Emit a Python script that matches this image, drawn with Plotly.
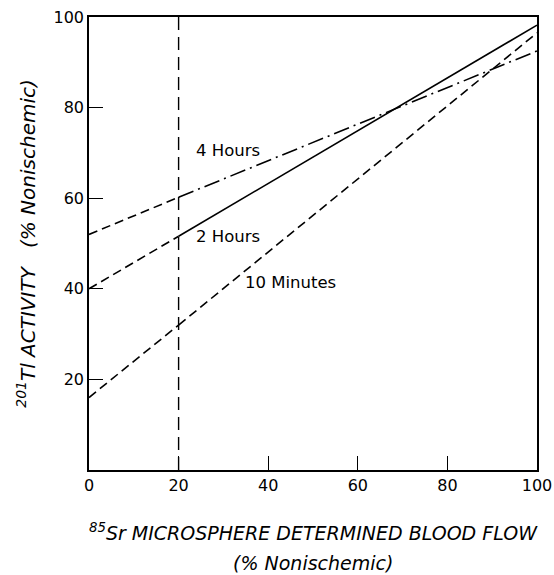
import plotly.graph_objects as go

# values
flow = [0, 20, 100]              # % nonischemic blood flow
ten_min = [16, 32, 96.5]         # 201Tl activity, 10 minutes
two_hr = [40, 51.6, 98.2]        # 201Tl activity, 2 hours
four_hr = [52, 60.2, 92.5]       # 201Tl activity, 4 hours
ref_flow = 20                    # vertical reference line
x_ticks = [0, 20, 40, 60, 80, 100]
y_ticks = [20, 40, 60, 80, 100]

FONT = "DejaVu Sans, Liberation Sans, sans-serif"
DASH = "9px,5px"
DASHDOT = "16px,5px,2px,5px"

fig = go.Figure()

series = [
    (ten_min, DASH),
    (two_hr, "solid"),
    (four_hr, DASHDOT),
]
for ys, style in series:
    # extrapolated part below the reference flow: dashed
    fig.add_trace(go.Scatter(x=flow[:2], y=ys[:2], mode="lines",
                             line=dict(color="black", width=1.6, dash=DASH),
                             showlegend=False, hoverinfo="skip"))
    fig.add_trace(go.Scatter(x=flow[1:], y=ys[1:], mode="lines",
                             line=dict(color="black", width=1.6, dash=style),
                             showlegend=False))

fig.add_vline(x=ref_flow, line=dict(color="black", width=1.4, dash="13px,7px"))

labels = [("4 Hours", 31, 70.5), ("2 Hours", 31, 51.5), ("10 Minutes", 45, 41.5)]
for txt, lx, ly in labels:
    fig.add_annotation(x=lx, y=ly, text=txt, showarrow=False,
                       font=dict(size=16.5, color="black", family=FONT))

fig.add_annotation(xref="paper", yref="paper", x=0.5, y=-0.137, yanchor="middle",
                   text="<i><sup>85</sup>Sr MICROSPHERE DETERMINED BLOOD FLOW</i>",
                   showarrow=False, font=dict(size=19, color="black", family=FONT))
fig.add_annotation(xref="paper", yref="paper", x=0.5, y=-0.205, yanchor="middle",
                   text="<i>(% Nonischemic)</i>",
                   showarrow=False, font=dict(size=19, color="black", family=FONT))

axis_common = dict(showgrid=False, zeroline=False, showline=True, mirror=True,
                   linecolor="black", linewidth=1.5, ticks="inside", ticklen=14,
                   tickwidth=1.3, tickcolor="black", automargin=False,
                   ticklabeloverflow="allow",
                   tickfont=dict(size=16, color="black", family=FONT))

fig.update_xaxes(range=[0, 100], tickvals=x_ticks, **axis_common)
fig.update_yaxes(range=[0, 100], tickvals=y_ticks, **axis_common,
                 title=dict(text="<i><sup>201</sup>Tl ACTIVITY   (% Nonischemic)</i>",
                            font=dict(size=20, color="black", family=FONT),
                            standoff=13))

fig.update_layout(
    width=554, height=575,
    margin=dict(l=89, r=17, t=17, b=105),
    plot_bgcolor="white", paper_bgcolor="white",
    showlegend=False,
)

# drop the default 8px body margin so the figure fills the window
fig.write_html("out.html", config={"displayModeBar": False},
               post_script="document.body.style.margin = '0';")
